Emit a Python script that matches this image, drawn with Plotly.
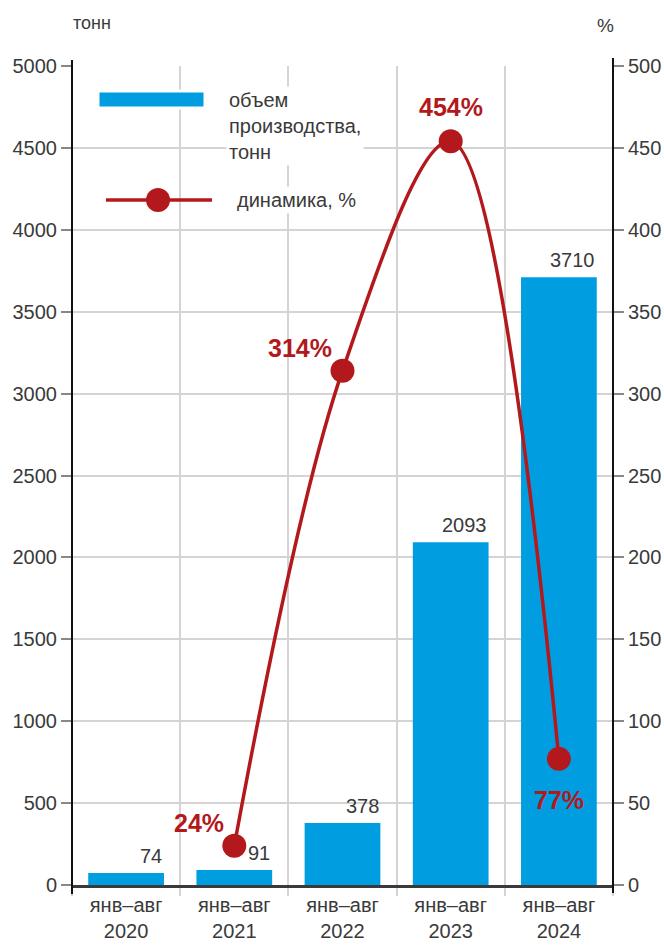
import plotly.graph_objects as go

# --- data -------------------------------------------------------------
periods = ["янв–авг<br>2020", "янв–авг<br>2021", "янв–авг<br>2022",
           "янв–авг<br>2023", "янв–авг<br>2024"]
volume_t = [74, 91, 378, 2093, 3710]          # объем производства, тонн
growth_pct = [None, 24, 314, 454, 77]         # динамика, %
growth_text = ["", "24%", "314%", "454%", "77%"]

left_ticks = list(range(0, 5001, 500))
right_ticks = list(range(0, 501, 50))

# --- styling ----------------------------------------------------------
BLUE = "#009ee0"
RED = "#b3191c"
TXT = "#3a3a3a"
GRID = "#d4d4d4"
FONT = "Liberation Sans, Arial, sans-serif"
FS = 20

W, H = 664, 951
ML, MR, MT, MB = 72, 51, 66, 66
PW, PH = W - ML - MR, H - MT - MB


def px(x):
    return (x - ML) / PW


def py(y):
    return (H - MB - y) / PH


fig = go.Figure()

fig.add_trace(go.Bar(
    x=periods, y=volume_t, marker=dict(color=BLUE, line=dict(width=0)),
    width=0.7, yaxis="y", showlegend=False, hoverinfo="y",
))

fig.add_trace(go.Scatter(
    x=periods, y=growth_pct, yaxis="y2", mode="lines+markers",
    line=dict(color=RED, width=3.5, shape="spline", smoothing=1.0),
    marker=dict(color=RED, size=24), connectgaps=False, showlegend=False,
))

annotations = []

# bar values, right-aligned to bar edge
for p, v in zip(periods, volume_t):
    annotations.append(dict(
        x=p, y=v, xref="x", yref="y", text=str(v), showarrow=False,
        xanchor="right", yanchor="bottom", xshift=38, yshift=4,
        font=dict(family=FONT, size=FS, color=TXT),
    ))

# percentage labels near the line markers
pct_shift = [None, (-35, 23), (-43, 23), (0, 34), (0, -41)]
for p, v, t, s in zip(periods, growth_pct, growth_text, pct_shift):
    if v is None:
        continue
    annotations.append(dict(
        x=p, y=v, xref="x", yref="y2", text="<b>%s</b>" % t, showarrow=False,
        xanchor="center", yanchor="middle", xshift=s[0], yshift=s[1],
        font=dict(family=FONT, size=25, color=RED),
    ))

# axis unit captions
annotations.append(dict(x=px(71), y=py(23), xref="paper", yref="paper",
                        text="тонн", showarrow=False, xanchor="left",
                        yanchor="middle",
                        font=dict(family=FONT, size=18, color=TXT)))
annotations.append(dict(x=px(616), y=py(26), xref="paper", yref="paper",
                        text="%", showarrow=False, xanchor="right",
                        yanchor="middle",
                        font=dict(family=FONT, size=19, color=TXT)))

# legend texts
annotations.append(dict(x=px(226), y=py(86), xref="paper", yref="paper",
                        text="объем<br>производства,<br>тонн",
                        showarrow=False, xanchor="left", yanchor="top",
                        align="left", bgcolor="white", borderpad=2,
                        font=dict(family=FONT, size=FS, color=TXT)))
annotations.append(dict(x=px(234), y=py(200), xref="paper", yref="paper",
                        text="динамика, %", showarrow=False, xanchor="left",
                        yanchor="middle", bgcolor="white", borderpad=2,
                        font=dict(family=FONT, size=FS, color=TXT)))

shapes = [
    # legend: bar swatch
    dict(type="rect", xref="paper", yref="paper",
         x0=px(98), x1=px(205), y0=py(108), y1=py(91),
         fillcolor=BLUE, line=dict(color="white", width=3), layer="above"),
    # legend: line swatch
    dict(type="line", xref="paper", yref="paper",
         x0=px(106), x1=px(212), y0=py(200), y1=py(200),
         line=dict(color=RED, width=3.5), layer="above"),
    dict(type="circle", xref="paper", yref="paper",
         x0=px(146), x1=px(170), y0=py(212), y1=py(188),
         fillcolor=RED, line=dict(color=RED, width=0), layer="above"),
    # vertical axis lines, slightly longer than the plot area
    dict(type="line", xref="paper", yref="paper",
         x0=0, x1=0, y0=py(894), y1=py(60),
         line=dict(color="#111111", width=2), layer="above"),
    dict(type="line", xref="paper", yref="paper",
         x0=1, x1=1, y0=py(893), y1=py(58),
         line=dict(color="#111111", width=2), layer="above"),
]

fig.update_layout(
    width=W, height=H,
    margin=dict(l=ML, r=MR, t=MT, b=MB, autoexpand=False),
    paper_bgcolor="white", plot_bgcolor="white",
    font=dict(family=FONT, size=FS, color=TXT),
    xaxis=dict(
        type="category", range=[-0.5, 4.5], tickson="boundaries",
        showgrid=True, gridcolor=GRID, gridwidth=1.5,
        ticks="outside", ticklen=8, tickcolor=GRID, tickwidth=1.5,
        showline=True, linecolor="#3a3a3a", linewidth=3,
        tickfont=dict(family=FONT, size=FS, color=TXT),
        automargin=False, fixedrange=True,
    ),
    yaxis=dict(
        range=[0, 5000], tickvals=left_ticks,
        ticktext=[str(v) for v in left_ticks],
        showgrid=True, gridcolor=GRID, gridwidth=1.5, zeroline=False,
        ticks="outside", ticklen=10, tickcolor="#888888", tickwidth=1.5,
        showline=False, tickfont=dict(family=FONT, size=FS, color=TXT),
        automargin=False, fixedrange=True,
    ),
    yaxis2=dict(
        range=[0, 500], tickvals=right_ticks,
        ticktext=[str(v) for v in right_ticks],
        overlaying="y", side="right", showgrid=False, zeroline=False,
        ticks="outside", ticklen=10, tickcolor="#888888", tickwidth=1.5,
        showline=False, tickfont=dict(family=FONT, size=FS, color=TXT),
        automargin=False, fixedrange=True,
    ),
    annotations=annotations,
    shapes=shapes,
)

fig.write_html("out.html")
